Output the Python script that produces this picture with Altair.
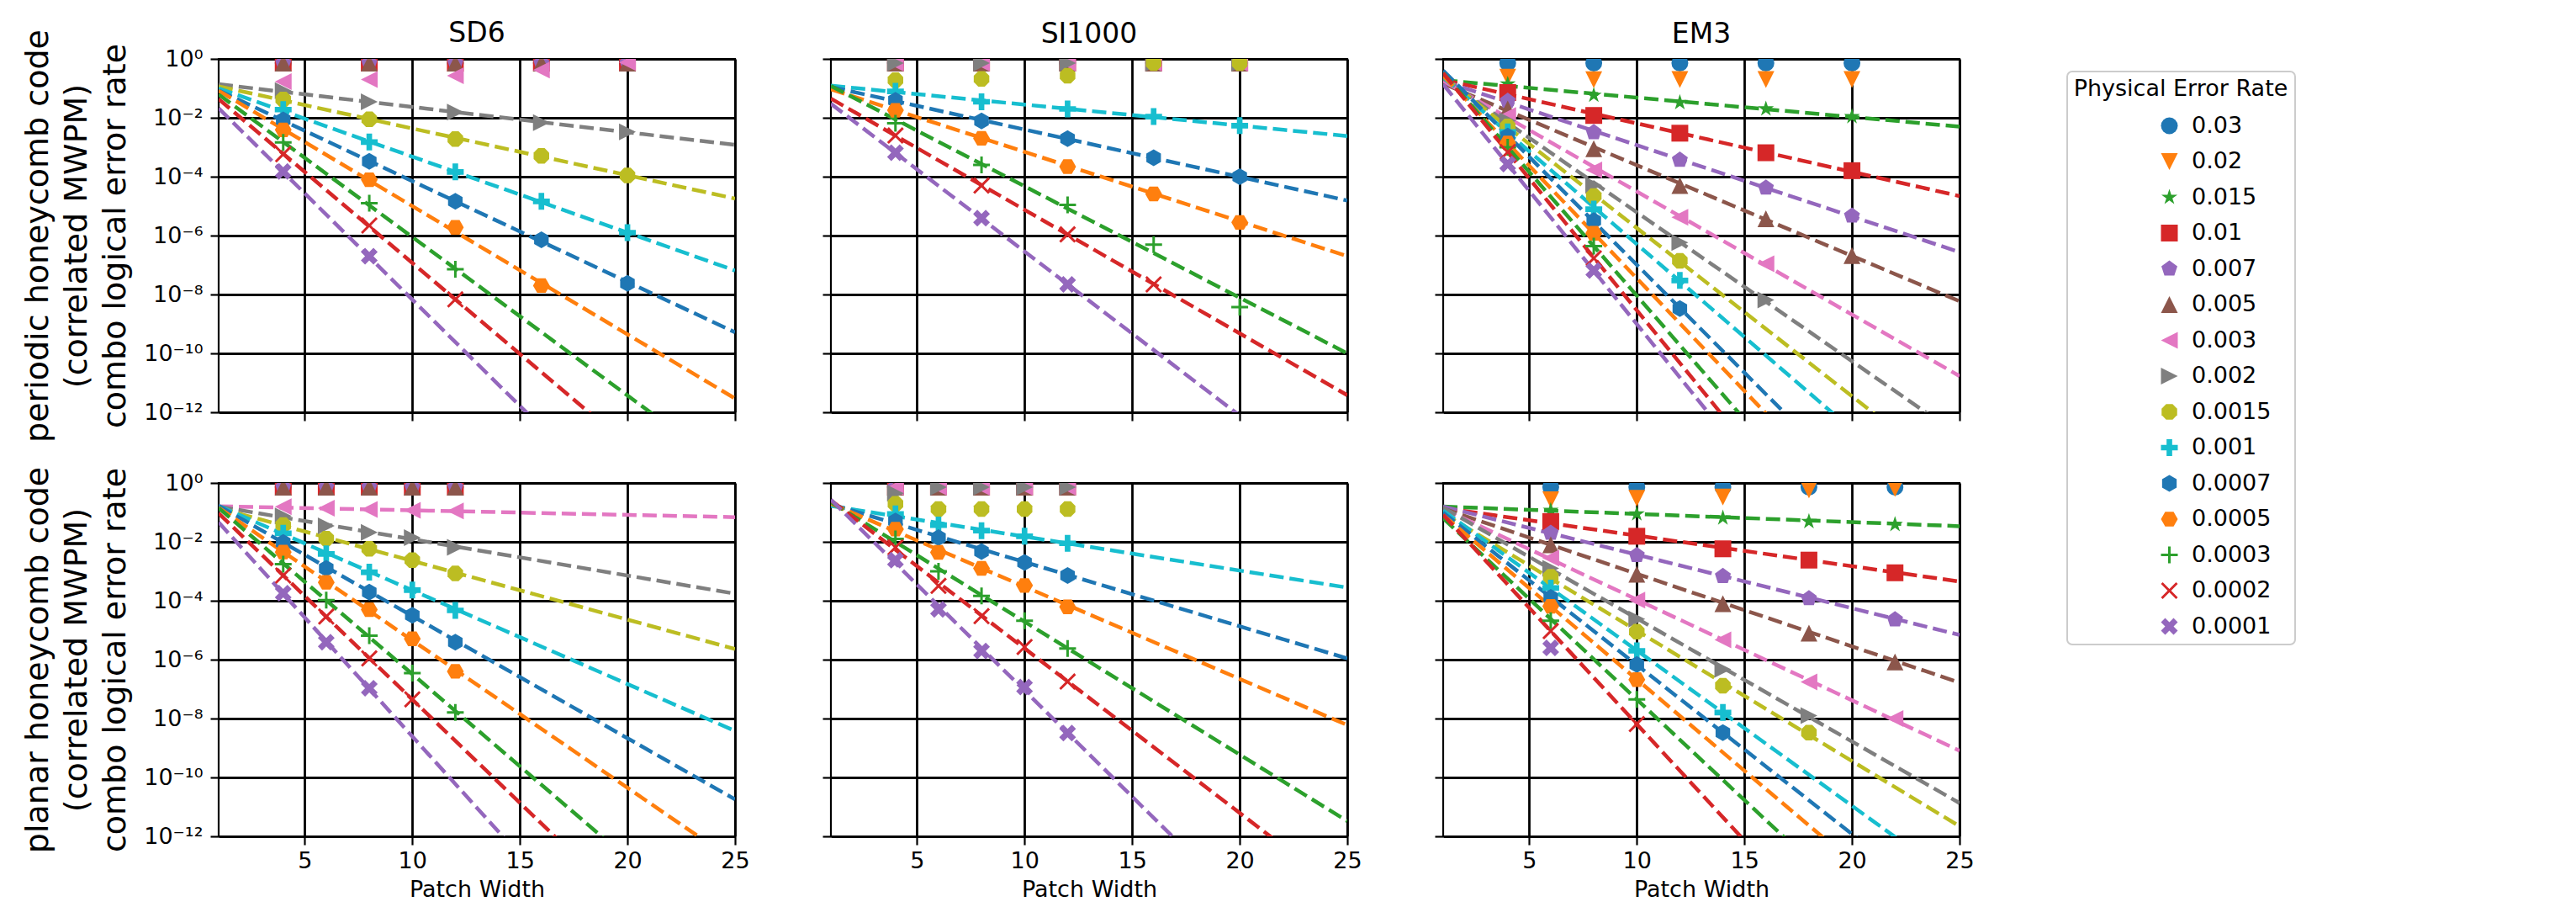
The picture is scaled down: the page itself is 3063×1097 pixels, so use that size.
import altair as alt
import pandas as pd

# ---------------- categories / styling tables ----------------
rates = ["0.03", "0.02", "0.015", "0.01", "0.007", "0.005", "0.003", "0.002",
         "0.0015", "0.001", "0.0007", "0.0005", "0.0003", "0.0002", "0.0001"]
colors = ["#1f77b4", "#ff7f0e", "#2ca02c", "#d62728", "#9467bd", "#8c564b", "#e377c2",
          "#7f7f7f", "#bcbd22", "#17becf", "#1f77b4", "#ff7f0e", "#2ca02c", "#d62728", "#9467bd"]
marker_paths = [
    "circle",
    "M-1,-1L1,-1L0,1Z",
    "M0,-1L-0.225,-0.309L-0.951,-0.309L-0.363,0.118L-0.588,0.809L0,0.382L0.588,0.809L0.363,0.118L0.951,-0.309L0.225,-0.309Z",
    "square",
    "M0,-1L-0.951,-0.309L-0.588,0.809L0.588,0.809L0.951,-0.309Z",
    "M0,-1L1,1L-1,1Z",
    "M-1,0L1,-1L1,1Z",
    "M1,0L-1,1L-1,-1Z",
    "M0.924,-0.383L0.383,-0.924L-0.383,-0.924L-0.924,-0.383L-0.924,0.383L-0.383,0.924L0.383,0.924L0.924,0.383Z",
    "M-0.333,-1H0.333V-0.333H1V0.333H0.333V1H-0.333V0.333H-1V-0.333H-0.333Z",
    "M0,-1L0.866,-0.5L0.866,0.5L0,1L-0.866,0.5L-0.866,-0.5Z",
    "M1,0L0.5,0.866L-0.5,0.866L-1,0L-0.5,-0.866L0.5,-0.866Z",
    "M-0.15,-1H0.15V-0.15H1V0.15H0.15V1H-0.15V0.15H-1V-0.15H-0.15Z",
    "M-1,-0.79L-0.79,-1L0,-0.21L0.79,-1L1,-0.79L0.21,0L1,0.79L0.79,1L0,0.21L-0.79,1L-1,0.79L-0.21,0Z",
    "M-0.5,-1L0,-0.5L0.5,-1L1,-0.5L0.5,0L1,0.5L0.5,1L0,0.5L-0.5,1L-1,0.5L-0.5,0L-1,-0.5Z",
]

noise_models = ["SD6", "SI1000", "EM3"]
row_titles = [
    ["periodic honeycomb code", "(correlated MWPM)", "combo logical error rate"],
    ["planar honeycomb code", "(correlated MWPM)", "combo logical error rate"],
]
x_ticks = [5, 10, 15, 20, 25]
y_ticks = [1, 1e-2, 1e-4, 1e-6, 1e-8, 1e-10, 1e-12]
fit_x = [1, 25]

# ---------------- periodic / SD6 ----------------
sd6_periodic_x = [4, 8, 12, 16, 20]
sd6_periodic_y = {
    "0.03": [0.72, 0.72, 0.72, 0.72, 0.72],
    "0.02": [0.72, 0.72, 0.72, 0.72, 0.72],
    "0.015": [0.72, 0.72, 0.72, 0.72, 0.72],
    "0.01": [0.72, 0.72, 0.72, 0.72, 0.72],
    "0.007": [0.72, 0.72, 0.72, 0.72, 0.72],
    "0.005": [0.72, 0.72, 0.72, 0.72, 0.72],
    "0.003": [0.17, 0.20, 0.27, 0.42, 0.76],
    "0.002": [0.083, 0.035, 0.0155, 0.0069, 0.0033],
    "0.0015": [0.042, 0.0089, 0.0019, 5.1e-4, 1.1e-4],
    "0.001": [0.019, 1.5e-3, 1.45e-4, 1.45e-5, 1.26e-6],
    "0.0007": [8.5e-3, 3.3e-4, 1.45e-5, 7.2e-7, 2.4e-8],
    "0.0005": [3.9e-3, 7.9e-5, 1.9e-6, 2.0e-8],
    "0.0003": [1.45e-3, 1.26e-5, 7.2e-8],
    "0.0002": [5.8e-4, 2.2e-6, 6.8e-9],
    "0.0001": [1.5e-4, 2.0e-7],
}
sd6_periodic_fit = {
    "0.002": [0.138, 1.2e-3],
    "0.0015": [0.117, 1.8e-5],
    "0.001": [0.1, 6.5e-8],
    "0.0007": [0.085, 5.2e-10],
    "0.0005": [0.083, 2.95e-12],
    "0.0003": [0.062, 7.6e-15],
    "0.0002": [0.043, 6.3e-17],
    "0.0001": [0.021, 1.0e-19],
}

# ---------------- periodic / SI1000 ----------------
si1000_periodic_x = [4, 8, 12, 16, 20]
si1000_periodic_y = {
    "0.03": [0.72, 0.72, 0.72, 0.72, 0.72],
    "0.02": [0.72, 0.72, 0.72, 0.72, 0.72],
    "0.015": [0.72, 0.72, 0.72, 0.72, 0.72],
    "0.01": [0.72, 0.72, 0.72, 0.72, 0.72],
    "0.007": [0.72, 0.72, 0.72, 0.72, 0.72],
    "0.005": [0.72, 0.72, 0.72, 0.72, 0.72],
    "0.003": [0.72, 0.72, 0.72, 0.72, 0.72],
    "0.002": [0.72, 0.72, 0.72, 0.72, 0.72],
    "0.0015": [0.19, 0.21, 0.27, 0.72, 0.72],
    "0.001": [0.079, 0.035, 0.020, 0.011, 0.0054],
    "0.0007": [0.039, 7.8e-3, 1.95e-3, 4.4e-4, 1.0e-4],
    "0.0005": [0.018, 2.0e-3, 2.2e-4, 2.6e-5, 2.8e-6],
    "0.0003": [6.5e-3, 2.5e-4, 1.1e-5, 4.9e-7, 3.7e-9],
    "0.0002": [2.5e-3, 5.0e-5, 1.1e-6, 2.2e-8],
    "0.0001": [6.5e-4, 3.9e-6, 2.2e-8],
}
si1000_periodic_fit = {
    "0.001": [0.123, 2.4e-3],
    "0.0007": [0.112, 1.55e-5],
    "0.0005": [0.093, 2.0e-7],
    "0.0003": [0.12, 1.0e-10],
    "0.0002": [0.045, 3.8e-12],
    "0.0001": [0.030, 1.26e-15],
}

# ---------------- periodic / EM3 ----------------
em3_periodic_x = [4, 8, 12, 16, 20]
em3_periodic_y = {
    "0.03": [0.72, 0.72, 0.72, 0.72, 0.72],
    "0.02": [0.24, 0.195, 0.2, 0.2, 0.2],
    "0.015": [0.14, 0.058, 0.033, 0.020, 0.011],
    "0.01": [0.072, 0.012, 3.0e-3, 6.5e-4, 1.6e-4],
    "0.007": [0.037, 3.2e-3, 3.7e-4, 4.2e-5, 4.7e-6],
    "0.005": [0.020, 8.9e-4, 5.0e-5, 3.7e-6, 2.1e-7],
    "0.003": [0.012, 1.7e-4, 4.2e-6, 1.1e-7],
    "0.002": [7.9e-3, 5.1e-5, 5.8e-7, 6.5e-9],
    "0.0015": [5.1e-3, 2.2e-5, 1.4e-7],
    "0.001": [3.3e-3, 7.9e-6, 3.0e-8],
    "0.0007": [2.4e-3, 3.2e-6, 3.3e-9],
    "0.0005": [1.4e-3, 1.2e-6],
    "0.0003": [1.0e-3, 4.4e-7],
    "0.0002": [6.8e-4, 1.7e-7],
    "0.0001": [2.7e-4, 6.5e-8],
}
em3_periodic_fit = {
    "0.015": [0.19, 5.0e-3],
    "0.01": [0.195, 2.2e-5],
    "0.007": [0.178, 2.75e-7],
    "0.005": [0.145, 5.9e-9],
    "0.003": [0.18, 1.7e-11],
    "0.002": [0.22, 1.6e-13],
    "0.0015": [0.25, 4.9e-15],
    "0.001": [0.24, 1.8e-16],
    "0.0007": [0.40, 1.05e-18],
    "0.0005": [0.27, 1.2e-19],
    "0.0003": [0.33, 2.3e-21],
    "0.0002": [0.33, 1.1e-22],
    "0.0001": [0.138, 2.6e-23],
}

# ---------------- planar / SD6 ----------------
sd6_planar_x = [4, 6, 8, 10, 12]
sd6_planar_y = {
    "0.03": [0.72, 0.72, 0.72, 0.72, 0.72],
    "0.02": [0.72, 0.72, 0.72, 0.72, 0.72],
    "0.015": [0.72, 0.72, 0.72, 0.72, 0.72],
    "0.01": [0.72, 0.72, 0.72, 0.72, 0.72],
    "0.007": [0.72, 0.72, 0.72, 0.72, 0.72],
    "0.005": [0.72, 0.72, 0.72, 0.72, 0.72],
    "0.003": [0.155, 0.138, 0.126, 0.117, 0.112],
    "0.002": [0.076, 0.035, 0.021, 0.0138, 0.0065],
    "0.0015": [0.037, 0.0129, 5.8e-3, 2.4e-3, 8.5e-4],
    "0.001": [0.0195, 3.9e-3, 9.3e-4, 2.3e-4, 4.7e-5],
    "0.0007": [9.5e-3, 1.26e-3, 1.95e-4, 3.2e-5, 3.9e-6],
    "0.0005": [4.5e-3, 4.2e-4, 5.0e-5, 5.1e-6, 4.0e-7],
    "0.0003": [1.74e-3, 1.05e-4, 6.5e-6, 3.5e-7, 1.6e-8],
    "0.0002": [7.2e-4, 2.9e-5, 1.1e-6, 4.5e-8],
    "0.0001": [1.8e-4, 3.9e-6, 1.07e-7],
}
sd6_planar_fit = {
    "0.003": [0.162, 0.069],
    "0.002": [0.158, 1.74e-4],
    "0.0015": [0.141, 2.3e-6],
    "0.001": [0.166, 3.8e-9],
    "0.0007": [0.166, 1.8e-11],
    "0.0005": [0.145, 1.4e-13],
    "0.0003": [0.141, 1.3e-16],
    "0.0002": [0.093, 1.3e-18],
    "0.0001": [0.046, 1.9e-21],
}

# ---------------- planar / SI1000 ----------------
si1000_planar_x = [4, 6, 8, 10, 12]
si1000_planar_y = {
    "0.03": [0.72, 0.72, 0.72, 0.72, 0.72],
    "0.02": [0.72, 0.72, 0.72, 0.72, 0.72],
    "0.015": [0.72, 0.72, 0.72, 0.72, 0.72],
    "0.01": [0.72, 0.72, 0.72, 0.72, 0.72],
    "0.007": [0.72, 0.72, 0.72, 0.72, 0.72],
    "0.005": [0.72, 0.72, 0.72, 0.72, 0.72],
    "0.003": [0.72, 0.72, 0.72, 0.72, 0.72],
    "0.002": [0.45, 0.72, 0.72, 0.72, 0.72],
    "0.0015": [0.195, 0.13, 0.13, 0.13, 0.13],
    "0.001": [0.089, 0.037, 0.024, 0.0155, 8.9e-3],
    "0.0007": [0.051, 0.0138, 4.7e-3, 2.0e-3, 7.2e-4],
    "0.0005": [0.027, 4.4e-3, 1.26e-3, 3.3e-4, 6.2e-5],
    "0.0003": [0.0126, 1.0e-3, 1.45e-4, 2.1e-5, 2.4e-6],
    "0.0002": [6.5e-3, 3.2e-4, 3.0e-5, 2.7e-6, 1.8e-7],
    "0.0001": [2.4e-3, 5.1e-5, 1.95e-6, 1.17e-7, 3.2e-9],
}
si1000_planar_fit = {
    "0.001": [0.166, 2.8e-4],
    "0.0007": [0.19, 1.1e-6],
    "0.0005": [0.20, 6.0e-9],
    "0.0003": [0.224, 3.3e-12],
    "0.0002": [0.257, 1.0e-14],
    "0.0001": [0.27, 1.4e-18],
}

# ---------------- planar / EM3 ----------------
em3_planar_x = [6, 10, 14, 18, 22]
em3_planar_y = {
    "0.03": [0.72, 0.72, 0.72, 0.72, 0.72],
    "0.02": [0.27, 0.30, 0.33, 0.58, 0.65],
    "0.015": [0.117, 0.089, 0.065, 0.049, 0.039],
    "0.01": [0.049, 0.0155, 5.8e-3, 2.4e-3, 8.9e-4],
    "0.007": [0.020, 3.5e-3, 6.8e-4, 1.2e-4, 2.3e-5],
    "0.005": [7.9e-3, 7.9e-4, 7.9e-5, 7.9e-6, 8.3e-7],
    "0.003": [2.8e-3, 1.05e-4, 4.7e-6, 1.74e-7, 1.0e-8],
    "0.002": [1.26e-3, 2.4e-5, 4.7e-7, 1.26e-8],
    "0.0015": [6.5e-4, 8.9e-6, 1.3e-7, 3.3e-9],
    "0.001": [2.7e-4, 2.0e-6, 1.6e-8],
    "0.0007": [1.3e-4, 6.8e-7, 3.3e-9],
    "0.0005": [6.5e-5, 2.1e-7],
    "0.0003": [2.1e-5, 4.5e-8],
    "0.0002": [9.3e-6, 6.5e-9],
    "0.0001": [2.5e-6],
}
em3_planar_fit = {
    "0.015": [0.158, 0.034],
    "0.01": [0.141, 4.5e-4],
    "0.007": [0.158, 6.9e-6],
    "0.005": [0.135, 1.66e-7],
    "0.003": [0.132, 8.1e-10],
    "0.002": [0.145, 1.35e-11],
    "0.0015": [0.093, 2.2e-12],
    "0.001": [0.115, 2.5e-14],
    "0.0007": [0.098, 1.6e-15],
    "0.0005": [0.081, 1.07e-16],
    "0.0003": [0.063, 2.5e-18],
    "0.0002": [0.083, 9.1e-21],
}

panels = [
    [(sd6_periodic_x, sd6_periodic_y, sd6_periodic_fit),
     (si1000_periodic_x, si1000_periodic_y, si1000_periodic_fit),
     (em3_periodic_x, em3_periodic_y, em3_periodic_fit)],
    [(sd6_planar_x, sd6_planar_y, sd6_planar_fit),
     (si1000_planar_x, si1000_planar_y, si1000_planar_fit),
     (em3_planar_x, em3_planar_y, em3_planar_fit)],
]

# ---------------- chart construction ----------------
FONT = "DejaVu Sans"
PANEL_W, PANEL_H = 614, 420
MARKER = 400

y_label_expr = (
    "datum.value >= 0.5 ? '10⁰' : datum.value >= 0.005 ? '10⁻²' : "
    "datum.value >= 0.00005 ? '10⁻⁴' : datum.value >= 0.0000005 ? '10⁻⁶' : "
    "datum.value >= 0.000000005 ? '10⁻⁸' : datum.value >= 0.00000000005 ? '10⁻¹⁰' : '10⁻¹²'"
)

legend = alt.Legend(
    title="Physical Error Rate", orient="none", legendX=2198, legendY=15,
    symbolOffset=80, labelOffset=13, rowPadding=14.5, titlePadding=16, padding=8,
    strokeColor="#cccccc", cornerRadius=6, fillColor="white",
    titleAnchor="middle", titleAlign="center", titleLimit=600, labelLimit=300,
    symbolSize=MARKER,
    symbolStrokeWidth=0, symbolOpacity=1, labelFontSize=27, titleFontSize=27,
    labelFont=FONT, titleFont=FONT, titleFontWeight="normal",
    labelColor="black", titleColor="black",
)
rate_color = dict(zip(rates, colors))


def make_panel(row, col):
    px, py, pfit = panels[row][col]
    recs = []
    for k, r in enumerate(rates):
        if r in py:
            for xv, yv in zip(px, py[r]):
                recs.append({"x": xv, "y": yv, "rate": r, "k": k})
    pts_df = pd.DataFrame(recs)
    lrecs = []
    for r in rates:
        if r in pfit:
            for xv, yv in zip(fit_x, pfit[r]):
                lrecs.append({"x": xv, "y": yv, "rate": r, "col": rate_color[r]})
    line_df = pd.DataFrame(lrecs)

    if row == 1:
        xaxis = alt.Axis(values=x_ticks, labelFlush=False, labelOverlap=False,
                         title="Patch Width", titleFontSize=27, titlePadding=8,
                         labelFontSize=27, labelPadding=6)
    else:
        xaxis = alt.Axis(values=x_ticks, labels=False, title=None)
    if col == 0:
        yaxis = alt.Axis(values=y_ticks, labelExpr=y_label_expr, labelOverlap=False,
                         labelFontSize=27, labelPadding=9,
                         title=row_titles[row], titleFontSize=38, titleLineHeight=46,
                         titlePadding=14)
    else:
        yaxis = alt.Axis(values=y_ticks, labels=False, title=None)

    xenc = alt.X("x:Q", scale=alt.Scale(domain=[1, 25], nice=False, zero=False), axis=xaxis)
    yenc = alt.Y("y:Q", scale=alt.Scale(type="log", domain=[1e-12, 1], nice=False), axis=yaxis)

    lines = alt.Chart(line_df).mark_line(
        strokeDash=[17, 7], strokeWidth=4.5, clip=True
    ).encode(
        x=xenc, y=yenc,
        stroke=alt.Stroke("col:N", scale=None),
        detail="rate:N",
    )
    points = alt.Chart(pts_df).mark_point(
        filled=True, size=MARKER, opacity=1, strokeWidth=0, clip=True
    ).encode(
        x=xenc, y=yenc,
        color=alt.Color("rate:N", scale=alt.Scale(domain=rates, range=colors), legend=legend),
        shape=alt.Shape("rate:N", scale=alt.Scale(domain=rates, range=marker_paths), legend=legend),
        order=alt.Order("k:Q"),
    )
    layer = alt.layer(lines, points).properties(width=PANEL_W, height=PANEL_H)
    if row == 0:
        if col == 0:
            layer = layer.properties(title=alt.Title(noise_models[col], frame="group", dy=33))
        else:
            layer = layer.properties(title=alt.Title(noise_models[col], frame="group"))
    return layer


cells = [make_panel(r, c) for r in range(2) for c in range(3)]

chart = alt.concat(
    *cells, columns=3, spacing={"row": 84, "column": 114}, bounds="flush"
).properties(
    padding={"left": 17, "top": 14, "right": 40, "bottom": 10}
).configure(
    font=FONT
).configure_view(
    stroke="black", strokeWidth=2.2
).configure_axis(
    grid=True, gridColor="black", gridWidth=2.8, gridOpacity=1, domain=False,
    tickColor="black", tickSize=10, tickWidth=2.2, labelColor="black",
    labelFont=FONT, titleFont=FONT, titleFontWeight="normal", titleColor="black",
).configure_title(
    font=FONT, fontSize=33, fontWeight="normal", color="black", offset=11, anchor="middle"
).configure_legend(
    strokeWidth=2
)

chart.save("out.html", embed_options={"renderer": "svg", "actions": False})
